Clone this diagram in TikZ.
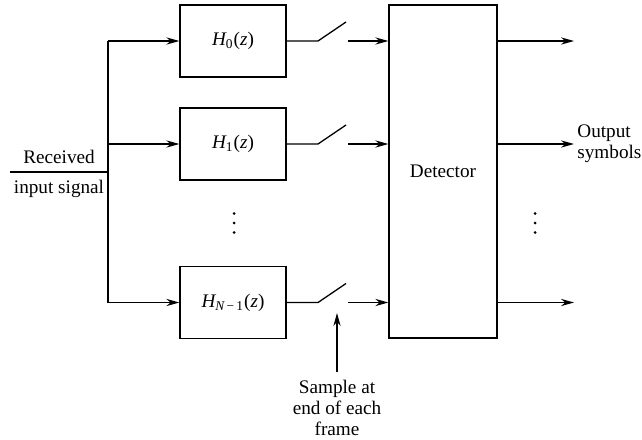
\documentclass[tikz,border=0pt]{standalone}
\usepackage{fontspec}
\setmainfont{Liberation Serif}
\usetikzlibrary{arrows.meta,calc,positioning}
\tikzset{
  filtro/.style={
    draw=black,
    line width=.65pt,
    minimum width=53pt,
    minimum height=36pt,
    inner sep=0pt
  },
  detector/.style={
    draw=black,
    line width=.65pt,
    minimum width=54pt,
    minimum height=166.5pt,
    inner sep=0pt
  },
  etiqueta/.style={
    align=center,
    inner sep=0pt
  },
  linea/.style={
    line width=.65pt,
    black
  },
  arrow/.style={
    -{Stealth[length=6.5pt,width=3.6pt]},
    line width=.65pt,
    black
  }
}

\begin{document}
\begin{tikzpicture}[x=.5pt,y=-.5pt,font=\fontsize{9.6}{10.5}\selectfont]
\useasboundingbox (0,0) rectangle (642,439);
\node[filtro] (f0) at (233,41) {{\itshape H}\textsubscript{0}({\itshape z})};
\node[filtro] (f1) at (233,144) {{\itshape H}\textsubscript{1}({\itshape z})};
\node[filtro] (f2) at (233,302.5) {{\itshape H}\textsubscript{{\itshape N}\,−\,1}({\itshape z})};
\node[detector] (det) at (443,171.5) {Detector};
% puntos suspensivos
\foreach \x in {234,535}
  \foreach \y in {213.5,223,232.5}
    \fill (\x,\y) circle (.75pt);
% entrada
\coordinate (src) at (10,172);
\coordinate (split) at (108,172);
\node[etiqueta,above=4pt of $(src)!.5!(split)$] (rx) {Received};
\node[etiqueta,below=4pt of $(src)!.5!(split)$] (rx2) {input signal};
\draw[linea] (src) -- (split);
\draw[linea] (split |- f0) -- (split |- f2);
% ramas, interruptores y salidas
\foreach \i/\y in {0/41,1/144,2/302.5}{
  \draw[arrow] (split |- f\i) -- (f\i.west);
  \coordinate (sa\i) at (318,\y);
  \coordinate (sb\i) at (346,\y-19);
  \coordinate (in\i) at (348,\y);
  \draw[linea] (f\i.east) -- (sa\i) -- (sb\i);
  \draw[arrow] (in\i) -- (det.west |- in\i);
  \coordinate (out\i) at (574,\y);
  \draw[arrow] (det.east |- out\i) -- (out\i);
}
\node[etiqueta,align=left,anchor=west] (outs) at (577,144) {Output\\symbols};
\node[etiqueta] (sample) at (337,408) {Sample at\\end of each\\frame};
\coordinate (smp) at (337,313);
\draw[arrow] ($(sample.north)+(0,-8)$) -- (smp);
\end{tikzpicture}
\end{document}
